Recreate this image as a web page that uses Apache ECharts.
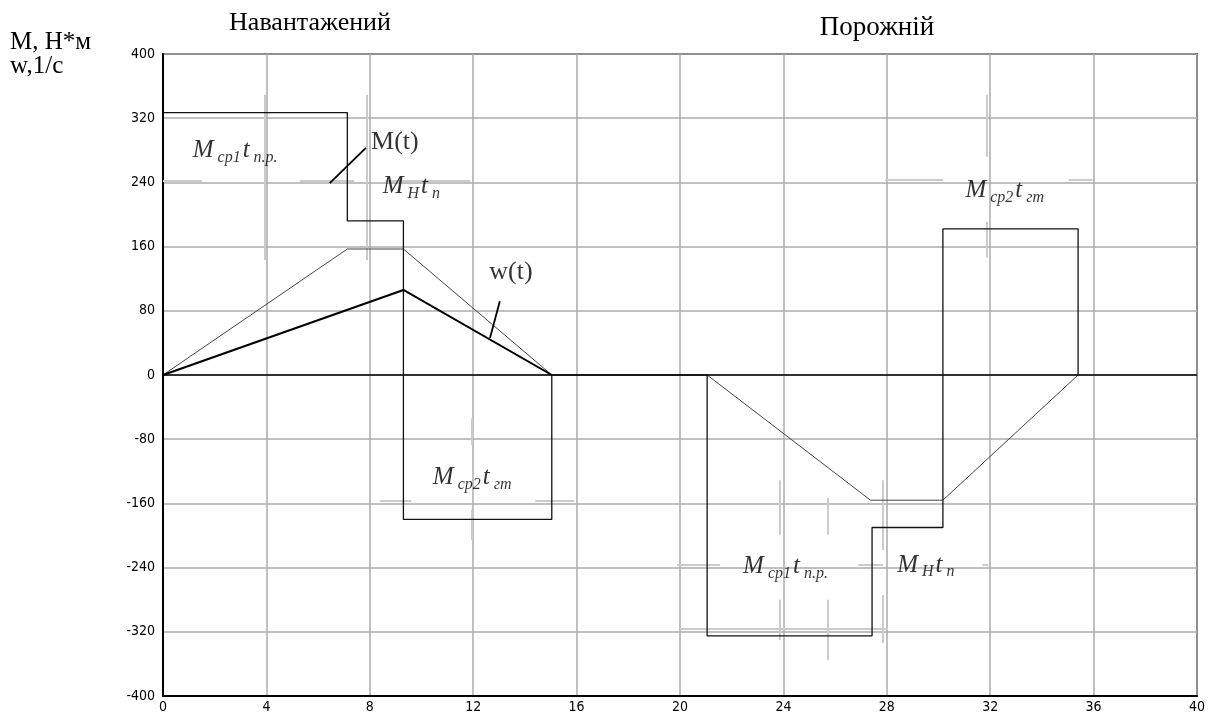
<!DOCTYPE html>
<html><head><meta charset="utf-8">
<script src="https://cdn.jsdelivr.net/npm/echarts@6/dist/echarts.min.js"></script>
<style>html,body{margin:0;padding:0;background:#fff}#c{width:1215px;height:720px}</style>
</head><body><div id="c"></div>
<script>
// Torque M(t) (step curve), time in s
const torqueM = [[0,327],[7.13,327],[7.13,192],[9.3,192],[9.3,-180],[15.04,-180],[15.04,0],
  [21.05,0],[21.05,-325],[27.43,-325],[27.43,-190],[30.17,-190],[30.17,182],[35.4,182],[35.4,0]];
// Speed (thin trapezoid)
const speedThinLoaded = [[0,0],[7.13,157],[9.3,157],[15.04,0]];
const speedThinIdle = [[21.05,0],[27.37,-156],[30.17,-156],[35.4,0]];
// w(t) thick line
const speedW = [[0,0],[9.3,106],[15.04,0]];
// axis ticks
const xTicks = {min:0, max:40, interval:4};
const yTicks = {min:-400, max:400, interval:80};
// light gray editing marks [x1,y1,x2,y2]
const decorSegments = [
  [3.94,349,3.94,143],[7.88,349,7.88,143],
  [0,242,1.5,242],[5.3,242,7.4,242],[8.6,242,11.9,242],
  [11.95,-54,11.95,-87],[11.95,-168,11.95,-206],
  [8.4,-157,9.6,-157],[14.4,-157,15.9,-157],
  [31.88,349,31.88,272],[31.88,191,31.88,146],
  [27.94,243,30.18,243],[35.03,243,35.96,243],
  [23.84,-131,23.84,-199],[23.84,-280,23.84,-330],
  [25.73,-153,25.73,-199],[25.73,-280,25.73,-355],
  [27.86,-131,27.86,-218],[27.86,-274,27.86,-334],
  [19.89,-237,21.55,-237],[26.9,-237,27.86,-237],[31.7,-237,31.93,-237],
  [20.0,-316.5,28.05,-316.5]
];
// pointer lines for labels
const pointers = [[6.45,239,7.85,283],[12.65,46,13.03,92]];
// annotation labels: [x, y, richText]
const annotations = [
  [1.15,280,'{m|M}{s|cp1}{m|t}{s|n.p.}'],
  [8.5,235,'{m|M}{s|H}{m|t}{s|n}'],
  [10.44,-128,'{m|M}{s|cp2}{m|t}{s|гm}'],
  [31.04,230,'{m|M}{s|cp2}{m|t}{s|гm}'],
  [22.44,-239,'{m|M}{s|cp1}{m|t}{s|n.p.}'],
  [28.4,-237,'{m|M}{s|H}{m|t}{s|n}']
];
const curveLabels = [[8.97,290,'M(t)'],[13.46,128,'w(t)']];

const chart = echarts.init(document.getElementById('c'), null, {renderer:'canvas'});
const serif = '"Liberation Serif","DejaVu Serif",serif';
const narrow = '"Liberation Sans Narrow","DejaVu Sans Condensed","Liberation Sans",sans-serif';
const rich = {
  m:{fontFamily:serif, fontStyle:'italic', fontSize:25, color:'#000', lineHeight:30, verticalAlign:'middle'},
  s:{fontFamily:serif, fontStyle:'italic', fontSize:16, color:'#000', lineHeight:30, verticalAlign:'bottom', padding:[0,2,0,4]}
};
chart.setOption({
  animation:false,
  backgroundColor:'#fff',
  grid:{left:163, right:18, top:54, bottom:24, show:true, borderColor:'#000', borderWidth:1.5},
  title:[
    {text:'Навантажений', left:305, top:5, textAlign:'center', textStyle:{fontFamily:serif, fontWeight:'normal', fontSize:26, color:'#000'}},
    {text:'Порожній', left:872, top:9, textAlign:'center', textStyle:{fontFamily:serif, fontWeight:'normal', fontSize:27, color:'#000'}},
    {text:'M, H*м\nw,1/c', left:5, top:25, textStyle:{fontFamily:serif, fontWeight:'normal', fontSize:25, lineHeight:24, color:'#000'}}
  ],
  xAxis:{type:'value', min:xTicks.min, max:xTicks.max, interval:xTicks.interval,
    axisLine:{onZero:false, lineStyle:{color:'#000', width:2}}, axisTick:{show:false},
    axisLabel:{color:'#000', fontFamily:narrow, fontSize:14, margin:4},
    splitLine:{show:true, lineStyle:{color:'#ababab', width:1.5}}},
  yAxis:{type:'value', min:yTicks.min, max:yTicks.max, interval:yTicks.interval,
    axisLine:{onZero:false, lineStyle:{color:'#000', width:2}}, axisTick:{show:false},
    axisLabel:{color:'#000', fontFamily:narrow, fontSize:14, margin:8},
    splitLine:{show:true, lineStyle:{color:'#ababab', width:1.5}}},
  series:[
    {type:'lines', coordinateSystem:'cartesian2d', silent:true, z:2,
      lineStyle:{color:'#cbcbcb', width:2, opacity:1},
      data:decorSegments.map(s=>({coords:[[s[0],s[1]],[s[2],s[3]]]}))},
    {type:'line', data:torqueM, symbol:'none', z:5, lineStyle:{color:'#111', width:1.3},
      markLine:{silent:true, symbol:'none', label:{show:false}, lineStyle:{color:'#000', width:1.5, type:'solid'}, data:[{yAxis:0}]}},
    {type:'line', data:speedThinLoaded, symbol:'none', z:4, lineStyle:{color:'#444', width:1}},
    {type:'line', data:speedThinIdle, symbol:'none', z:4, lineStyle:{color:'#444', width:1}},
    {type:'line', data:speedW, symbol:'none', z:6, lineStyle:{color:'#000', width:2}},
    {type:'lines', coordinateSystem:'cartesian2d', silent:true, z:6,
      lineStyle:{color:'#000', width:1.8, opacity:1},
      data:pointers.map(s=>({coords:[[s[0],s[1]],[s[2],s[3]]]}))},
    {type:'scatter', symbolSize:0, z:8, silent:true,
      data:annotations.map(a=>({value:[a[0],a[1]], label:{show:true, position:'right', distance:0, formatter:a[2], rich:rich}}))},
    {type:'scatter', symbolSize:0, z:8, silent:true,
      data:curveLabels.map(a=>({value:[a[0],a[1]], label:{show:true, position:'inside', formatter:a[2], fontFamily:serif, fontSize:26, color:'#000'}}))}
  ]
});
</script></body></html>
